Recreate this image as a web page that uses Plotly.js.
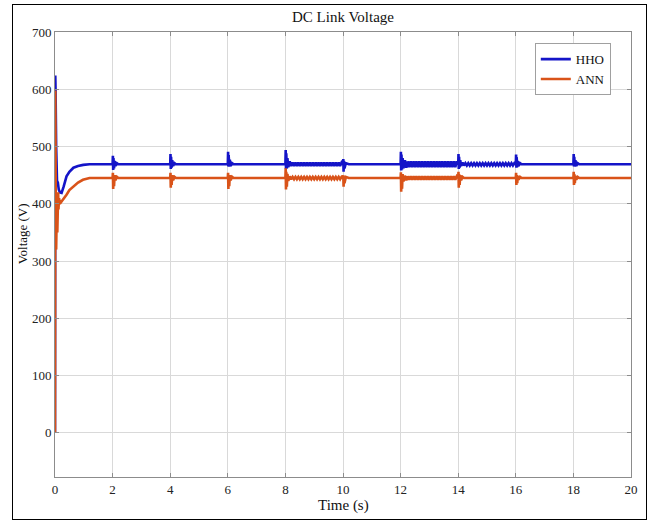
<!DOCTYPE html>
<html>
<head>
<meta charset="utf-8">
<script src="https://cdn.plot.ly/plotly-3.0.1.min.js"></script>
<style>
  html, body { margin: 0; padding: 0; background: #fff; }
  #chart { position: absolute; left: 0; top: 0; width: 649px; height: 521px; }
  #frame { position: absolute; left: 12px; top: 4px; width: 633px; height: 514px;
           border: 1px solid #000; pointer-events: none; }
</style>
</head>
<body>
<div id="chart"></div>
<div id="frame"></div>
<script>
// ---- data ----
const seriesNames = ['HHO', 'ANN'];
const xTicks = [0, 2, 4, 6, 8, 10, 12, 14, 16, 18, 20];
const yTicks = [0, 100, 200, 300, 400, 500, 600, 700];

const hhoT = [
  0, 0.01, 0.02, 0.04, 0.07, 0.1, 0.13, 0.17, 0.23, 0.3, 0.4, 0.5, 0.64, 0.8, 0.98, 1.2,
  2.0, 2.01, 2.02, 2.03, 2.05, 2.07, 2.1, 2.15, 2.2,
  4.0, 4.01, 4.02, 4.03, 4.05, 4.07, 4.1, 4.15, 4.2,
  6.0, 6.01, 6.02, 6.03, 6.05, 6.07, 6.1, 6.15, 6.2,
  8.0, 8.01, 8.02, 8.03, 8.05, 8.07, 8.1, 8.15, 8.2,
  8.25, 8.3, 8.35, 8.4, 8.45, 8.5, 8.55, 8.6, 8.65, 8.7, 8.75, 8.8, 8.85, 8.9, 8.95, 9.0, 9.05,
  9.1, 9.15, 9.2, 9.25, 9.3, 9.35, 9.4, 9.45, 9.5, 9.55, 9.6, 9.65, 9.7, 9.75, 9.8, 9.85, 9.9, 9.95,
  10.0, 10.01, 10.02, 10.03, 10.05, 10.1, 10.2,
  12.0, 12.01, 12.02, 12.03, 12.05, 12.07, 12.1, 12.15, 12.2,
  12.25, 12.3, 12.35, 12.4, 12.45, 12.5, 12.55, 12.6, 12.65, 12.7, 12.75, 12.8, 12.85, 12.9, 12.95, 13.0, 13.05,
  13.1, 13.15, 13.2, 13.25, 13.3, 13.35, 13.4, 13.45, 13.5, 13.55, 13.6, 13.65, 13.7, 13.75, 13.8, 13.85, 13.9, 13.95,
  14.0, 14.01, 14.02, 14.03, 14.05, 14.07, 14.1, 14.15, 14.2,
  14.25, 14.3, 14.35, 14.4, 14.45, 14.5, 14.55, 14.6, 14.65, 14.7, 14.75, 14.8, 14.85, 14.9, 14.95, 15.0, 15.05,
  15.1, 15.15, 15.2, 15.25, 15.3, 15.35, 15.4, 15.45, 15.5, 15.55, 15.6, 15.65, 15.7, 15.75, 15.8, 15.85, 15.9, 15.95,
  16.0, 16.01, 16.02, 16.03, 16.05, 16.07, 16.1, 16.15, 16.2,
  18.0, 18.01, 18.02, 18.03, 18.05, 18.07, 18.1, 18.15, 18.2,
  20.0
];
const hhoV = [
  0, 624, 598, 500, 440, 437, 425, 420, 419, 430, 448, 456, 463, 466, 468, 469,
  469, 484, 459, 480, 462, 475, 466, 471, 469,
  469, 487, 461, 482, 463, 476, 466, 471, 469,
  469, 491, 465, 485, 465, 477, 466, 471, 469,
  469, 494, 461, 488, 462, 480, 464, 474, 466,
  472, 466, 472, 466, 472, 466, 472, 466, 472, 466, 472, 466, 472, 466, 472, 466, 472,
  466, 472, 466, 472, 466, 472, 466, 472, 466, 472, 466, 472, 466, 472, 466, 472, 466, 472,
  469, 478, 456, 475, 462, 471, 469,
  469, 491, 458, 486, 460, 480, 462, 476, 463,
  474, 464, 474, 464, 474, 464, 474, 464, 474, 464, 474, 464, 474, 464, 474, 464, 474,
  464, 474, 464, 474, 464, 474, 464, 474, 464, 474, 464, 474, 464, 474, 464, 474, 464, 474,
  469, 487, 461, 482, 463, 476, 466, 472, 467,
  471, 467, 471, 467, 471, 467, 471, 467, 471, 467, 471, 467, 471, 467, 471, 467, 471,
  467, 471, 467, 471, 467, 471, 467, 471, 467, 471, 467, 471, 467, 471, 467, 471, 467, 471,
  469, 486, 463, 481, 464, 475, 466, 471, 469,
  469, 487, 465, 482, 465, 476, 466, 471, 469,
  469
];

const annT = [
  0, 0.01, 0.015, 0.02, 0.025, 0.03, 0.04, 0.05, 0.06, 0.07, 0.08, 0.09, 0.1, 0.11, 0.12, 0.14, 0.17,
  0.2, 0.3, 0.4, 0.5, 0.63, 0.8, 0.97, 1.2,
  2.0, 2.01, 2.02, 2.03, 2.05, 2.07, 2.1, 2.15, 2.2,
  4.0, 4.01, 4.02, 4.03, 4.05, 4.07, 4.1, 4.15, 4.2,
  6.0, 6.01, 6.02, 6.03, 6.05, 6.07, 6.1, 6.15, 6.2,
  8.0, 8.01, 8.02, 8.03, 8.05, 8.07, 8.1, 8.15, 8.2,
  8.25, 8.3, 8.35, 8.4, 8.45, 8.5, 8.55, 8.6, 8.65, 8.7, 8.75, 8.8, 8.85, 8.9, 8.95, 9.0, 9.05,
  9.1, 9.15, 9.2, 9.25, 9.3, 9.35, 9.4, 9.45, 9.5, 9.55, 9.6, 9.65, 9.7, 9.75, 9.8, 9.85, 9.9, 9.95,
  10.0, 10.01, 10.02, 10.03, 10.05, 10.1, 10.2,
  12.0, 12.01, 12.02, 12.03, 12.05, 12.07, 12.1, 12.15, 12.2,
  12.25, 12.3, 12.35, 12.4, 12.45, 12.5, 12.55, 12.6, 12.65, 12.7, 12.75, 12.8, 12.85, 12.9, 12.95, 13.0, 13.05,
  13.1, 13.15, 13.2, 13.25, 13.3, 13.35, 13.4, 13.45, 13.5, 13.55, 13.6, 13.65, 13.7, 13.75, 13.8, 13.85, 13.9, 13.95,
  14.0, 14.01, 14.02, 14.03, 14.05, 14.07, 14.1, 14.15, 14.2,
  16.0, 16.01, 16.02, 16.03, 16.05, 16.07, 16.1, 16.15, 16.2,
  18.0, 18.01, 18.02, 18.03, 18.05, 18.07, 18.1, 18.15, 18.2,
  20.0
];
const annV = [
  0, 598, 450, 300, 270, 380, 320, 410, 330, 415, 350, 418, 370, 420, 390, 410, 400,
  402, 408, 416, 424, 430, 437, 442, 445,
  445, 454, 426, 450, 431, 450, 441, 447, 445,
  445, 454, 428, 450, 433, 450, 441, 447, 445,
  445, 454, 426, 450, 431, 450, 441, 447, 445,
  445, 462, 425, 456, 430, 452, 440, 448, 443,
  447, 443, 447, 443, 447, 443, 447, 443, 447, 443, 447, 443, 447, 443, 447, 443, 447,
  443, 447, 443, 447, 443, 447, 443, 447, 443, 447, 443, 447, 443, 447, 443, 447, 443, 447,
  445, 450, 430, 448, 436, 447, 445,
  445, 455, 421, 451, 426, 452, 439, 449, 441,
  448, 442, 448, 442, 448, 442, 448, 442, 448, 442, 448, 442, 448, 442, 448, 442, 448,
  442, 448, 442, 448, 442, 448, 442, 448, 442, 448, 442, 448, 442, 448, 442, 448, 442, 448,
  445, 456, 428, 452, 433, 450, 441, 447, 445,
  445, 454, 433, 450, 436, 449, 442, 447, 445,
  445, 456, 433, 452, 436, 449, 442, 447, 445,
  445
];

// ---- drawing ----
const serif = 'Liberation Serif, Times New Roman, serif';
const traces = [
  { x: hhoT, y: hhoV, name: seriesNames[0], type: 'scatter', mode: 'lines',
    line: { color: '#1414c8', width: 2.6 } },
  { x: annT, y: annV, name: seriesNames[1], type: 'scatter', mode: 'lines',
    line: { color: '#d95319', width: 2.6 } }
];

const axisCommon = {
  showgrid: true, gridcolor: '#d9d9d9', gridwidth: 1,
  showline: true, linecolor: '#8c8c8c', linewidth: 1, mirror: 'ticks',
  ticks: 'inside', ticklen: 4, tickcolor: '#8c8c8c',
  zeroline: false,
  tickfont: { family: serif, size: 13, color: '#222' }
};

const layout = {
  width: 649, height: 521,
  margin: { l: 55, r: 18, t: 32, b: 44 },
  paper_bgcolor: '#fff', plot_bgcolor: '#fff',
  title: { text: 'DC Link Voltage', font: { family: serif, size: 15, color: '#111' },
           xref: 'paper', x: 0.5, xanchor: 'center', yref: 'container', y: 0.967, yanchor: 'middle' },
  xaxis: Object.assign({}, axisCommon, { range: [0, 20], tickmode: 'array', tickvals: xTicks }),
  yaxis: Object.assign({}, axisCommon, { range: [-77, 700], tickmode: 'array', tickvals: yTicks }),
  showlegend: true,
  legend: {
    x: 0.833, y: 0.975, xanchor: 'left', yanchor: 'top',
    bgcolor: '#fff', bordercolor: '#a0a0a0', borderwidth: 1,
    font: { family: serif, size: 13, color: '#111' },
    tracegroupgap: 0
  },
  annotations: [
    { text: 'Time (s)', xref: 'paper', yref: 'paper', x: 0.5, y: -0.063,
      xanchor: 'center', yanchor: 'middle', showarrow: false,
      font: { family: serif, size: 15, color: '#111' } },
    { text: 'Voltage (V)', xref: 'paper', yref: 'paper', x: -0.057, y: 0.546,
      xanchor: 'center', yanchor: 'middle', showarrow: false, textangle: -90,
      font: { family: serif, size: 13, color: '#111' } }
  ]
};

Plotly.newPlot('chart', traces, layout, { displayModeBar: false, staticPlot: true });
</script>
</body>
</html>
